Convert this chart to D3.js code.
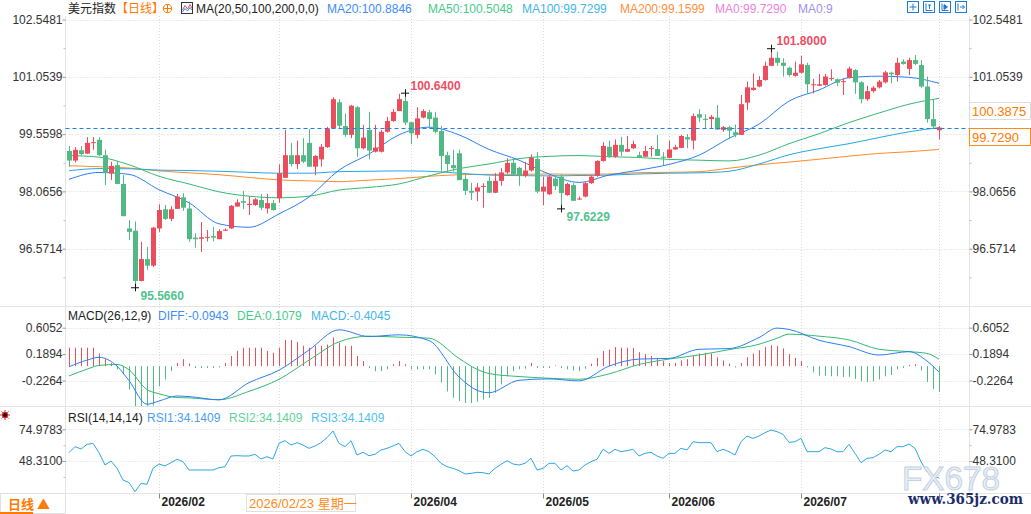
<!DOCTYPE html>
<html>
<head>
<meta charset="utf-8">
<script src="https://cdn.jsdelivr.net/npm/d3@7"></script>
<style>
html, body { margin: 0; padding: 0; background: #fff; overflow: hidden; }
svg { display: block; font-family: "Liberation Sans", Arial, "Noto Sans CJK SC", sans-serif; }
</style>
</head>
<body>
<div id="chart"></div>
<script>
'use strict';

// ─── Data ──────────────────────────────────────────────────────────────────
const kOpen = [
  99.12, 98.87, 99.14, 99.05, 99.33, 99.41, 99.01, 98.53, 98.75, 98.26,
  97.10, 97.04, 95.73, 96.30, 96.13, 97.10, 97.60, 97.35, 97.61, 97.91,
  97.62, 96.86, 96.83, 96.87, 96.90, 96.82, 97.04, 97.10, 97.67, 97.81,
  97.71, 97.71, 97.84, 97.62, 97.76, 97.885, 98.42, 99.01, 98.78, 99.01,
  99.33, 98.71, 98.90, 99.22, 99.71, 100.39, 99.77, 99.54, 100.26, 99.19,
  99.67, 99.10, 99.10, 99.62, 99.90, 100.16, 100.42, 99.87, 99.54, 99.99,
  100.13, 99.99, 99.64, 99.01, 98.75, 99.06, 98.39, 98.08, 98.06, 98.20,
  98.34, 98.03, 98.34, 98.56, 98.81, 98.68, 98.47, 98.61, 98.91, 98.06,
  97.99, 98.40, 98.45, 97.97, 98.23, 97.86, 97.93, 98.28, 98.47, 98.86,
  99.23, 98.97, 99.28, 99.10, 99.19, 99.01, 98.97, 99.19, 99.17, 98.97,
  98.94, 99.16, 99.20, 99.48, 99.39, 100.08, 99.96, 99.95, 99.99, 99.67,
  99.74, 99.61, 99.54, 100.38, 100.71, 100.80, 100.97, 101.34, 101.55, 101.42,
  101.29, 101.08, 101.16, 101.36, 100.84, 100.82, 100.84, 101.00, 100.99, 100.92,
  101.03, 101.23, 100.91, 100.47, 100.68, 100.78, 100.91, 101.16, 101.10, 101.45,
  101.26, 101.49, 101.36, 100.80, 99.95, 99.66
];
const kHigh = [
  99.25, 99.22, 99.25, 99.48, 99.48, 99.48, 99.15, 98.84, 98.84, 98.49,
  97.32, 97.28, 96.75, 96.62, 97.14, 97.73, 97.71, 97.68, 98.00, 98.02,
  97.80, 96.97, 97.26, 97.06, 97.14, 97.08, 97.10, 97.71, 97.86, 98.08,
  97.93, 97.89, 98.00, 98.00, 97.84, 98.77, 99.67, 99.33, 99.39, 99.45,
  99.69, 99.01, 99.30, 99.75, 100.52, 100.47, 100.10, 100.32, 100.29, 99.80,
  100.14, 99.80, 99.67, 100.01, 100.21, 100.61, 100.64, 99.88, 100.26, 100.21,
  100.19, 100.14, 99.77, 99.10, 99.15, 99.15, 98.49, 98.29, 98.28, 98.28,
  98.45, 98.54, 98.67, 98.93, 98.93, 98.71, 98.84, 99.03, 99.09, 98.45,
  98.49, 98.50, 98.51, 98.29, 98.28, 97.93, 98.32, 98.49, 98.88, 99.35,
  99.39, 99.42, 99.49, 99.51, 99.39, 99.10, 99.25, 99.25, 99.54, 99.09,
  99.39, 99.28, 99.54, 99.56, 100.10, 100.21, 100.08, 100.06, 100.32, 99.77,
  99.77, 99.81, 100.58, 100.93, 101.14, 101.07, 101.45, 101.80, 101.71, 101.54,
  101.32, 101.45, 101.60, 101.42, 101.00, 101.13, 101.13, 101.25, 101.01, 101.01,
  101.32, 101.25, 100.94, 100.82, 100.81, 100.97, 101.21, 101.19, 101.55, 101.51,
  101.55, 101.62, 101.49, 101.06, 100.47, 99.77
];
const kLow = [
  98.71, 98.82, 99.01, 99.04, 99.15, 98.99, 98.23, 98.36, 98.25, 97.42,
  96.80, 95.566, 95.72, 96.02, 96.09, 97.01, 97.32, 97.29, 97.61, 97.56,
  96.75, 96.60, 96.49, 96.76, 96.76, 96.82, 97.04, 97.09, 97.67, 97.60,
  97.45, 97.69, 97.58, 97.49, 97.56, 97.77, 98.42, 98.71, 98.65, 98.80,
  98.71, 98.49, 98.71, 99.20, 99.71, 99.69, 99.49, 99.45, 98.97, 99.16,
  98.90, 99.08, 99.08, 99.60, 99.88, 100.16, 99.80, 99.30, 99.45, 99.97,
  99.71, 99.58, 98.58, 98.58, 98.58, 98.36, 97.97, 97.84, 97.81, 97.64,
  98.02, 98.02, 98.21, 98.52, 98.49, 98.21, 98.43, 98.58, 98.02, 97.71,
  97.97, 98.10, 97.6229, 97.95, 97.82, 97.84, 97.91, 98.26, 98.45, 98.84,
  98.94, 98.94, 98.99, 99.09, 99.17, 98.93, 98.97, 98.97, 98.99, 98.75,
  98.93, 99.15, 99.19, 99.19, 99.16, 99.87, 99.69, 99.69, 99.67, 99.62,
  99.43, 99.48, 99.54, 100.19, 100.69, 100.78, 100.95, 101.34, 101.34, 101.06,
  101.06, 101.06, 101.14, 100.61, 100.62, 100.81, 100.82, 100.95, 100.81, 100.58,
  101.01, 100.61, 100.36, 100.43, 100.64, 100.75, 100.88, 100.88, 100.93, 101.37,
  101.10, 101.36, 100.77, 99.86, 99.71, 99.42
];
const kClose = [
  98.87, 99.15, 99.04, 99.33, 99.35, 99.01, 98.54, 98.73, 98.26, 97.42,
  97.01, 95.73, 96.30, 96.13, 97.12, 97.58, 97.35, 97.60, 97.93, 97.64,
  96.82, 96.82, 96.87, 96.88, 96.86, 97.03, 97.07, 97.69, 97.78, 97.77,
  97.74, 97.86, 97.64, 97.76, 97.58, 98.54, 99.01, 98.78, 99.01, 98.84,
  98.71, 98.99, 99.23, 99.71, 100.47, 99.78, 99.54, 100.30, 99.19, 99.47,
  99.13, 99.21, 99.62, 99.90, 100.14, 100.47, 99.86, 99.58, 99.97, 100.16,
  99.95, 99.62, 98.99, 98.78, 98.67, 98.36, 98.08, 98.03, 98.17, 98.21,
  98.03, 98.34, 98.56, 98.81, 98.51, 98.47, 98.61, 98.94, 98.06, 98.19,
  98.45, 98.20, 98.02, 98.26, 97.82, 97.88, 98.28, 98.45, 98.86, 99.25,
  98.97, 99.28, 99.10, 99.17, 99.30, 98.94, 99.12, 99.20, 98.99, 98.94,
  99.16, 99.22, 99.51, 99.42, 100.03, 99.99, 99.93, 100.01, 99.68, 99.74,
  99.65, 99.54, 100.34, 100.78, 100.77, 100.97, 101.34, 101.55, 101.42, 101.34,
  101.10, 101.16, 101.38, 100.86, 100.86, 100.86, 101.06, 101.02, 100.90, 100.94,
  101.27, 100.91, 100.47, 100.68, 100.77, 100.93, 101.17, 101.12, 101.42, 101.39,
  101.49, 101.39, 100.80, 99.95, 99.76, 99.729
];

// moving averages, sampled every 5 bars
const maIdx  = d3.range(0, 146, 5);
const ma20   = [98.38, 98.56, 98.51, 98.11, 97.77, 97.22, 97.13, 97.48, 97.92, 98.62,
                99.04, 99.54, 99.74, 99.54, 99.16, 98.88, 98.52, 98.30, 98.49, 98.62,
                98.77, 99.01, 99.45, 99.82, 100.42, 100.71, 101.03, 101.07, 101.04, 100.885];
const ma50   = [99.00, 98.96, 98.76, 98.46, 98.26, 98.055, 97.94, 97.90, 97.94, 98.10,
                98.17, 98.26, 98.47, 98.66, 98.78, 98.92, 98.98, 99.00, 98.97, 98.95,
                98.90, 98.88, 98.86, 99.01, 99.31, 99.57, 99.86, 100.11, 100.34, 100.49];
const ma100  = [98.605, 98.66, 98.655, 98.62, 98.61, 98.59, 98.563, 98.54, 98.54, 98.58,
                98.59, 98.60, 98.59, 98.54, 98.49, 98.477, 98.47, 98.48, 98.49, 98.52,
                98.54, 98.55, 98.59, 98.78, 99.02, 99.18, 99.31, 99.47, 99.62, 99.73];
const ma200  = [98.735, 98.71, 98.675, 98.60, 98.55, 98.50, 98.43, 98.365, 98.34, 98.32,
                98.36, 98.40, 98.46, 98.50, 98.51, 98.51, 98.52, 98.51, 98.52, 98.553,
                98.563, 98.58, 98.67, 98.76, 98.83, 98.905, 98.985, 99.056, 99.10, 99.16];

// MACD lines
const macdIdx = [0, 3, 5, 8, 10, 13, 15, 18, 20, 25, 30, 35, 40, 45, 50, 55, 60, 65, 68, 70,
                 75, 80, 85, 90, 95, 100, 105, 110, 115, 118, 120, 125, 130, 135, 140, 143, 145];
const diffVals = [-0.011, 0.095, 0.138, 0.000, -0.228, -0.600, -0.550, -0.470, -0.480, -0.530,
                  -0.260, -0.064, 0.254, 0.572, 0.466, 0.493, 0.403, -0.170, -0.380, -0.419,
                  -0.223, -0.201, -0.233, 0.000, 0.111, 0.122, 0.265, 0.276, 0.450, 0.599,
                  0.578, 0.408, 0.307, 0.175, 0.228, 0.080, -0.0943];
const deaVals  = [-0.154, -0.048, 0.011, 0.026, -0.058, -0.370, -0.435, -0.495, -0.500, -0.530,
                  -0.397, -0.207, 0.095, 0.382, 0.472, 0.456, 0.440, 0.122, -0.050, -0.117,
                  -0.164, -0.191, -0.207, -0.122, 0.026, 0.111, 0.175, 0.260, 0.344, 0.440,
                  0.503, 0.472, 0.413, 0.265, 0.228, 0.200, 0.1079];
const macdHist = [
  0.29, 0.29, 0.29, 0.29, 0.29, 0.20, 0.11, 0.05, -0.05, -0.13,
  -0.37, -0.70, -0.70, -0.66, -0.62, -0.32, -0.21, -0.08, 0.05, 0.11,
  0.04, -0.03, -0.03, -0.03, -0.03, -0.02, 0.05, 0.16, 0.24, 0.29,
  0.29, 0.29, 0.29, 0.24, 0.21, 0.29, 0.41, 0.41, 0.38, 0.32,
  0.29, 0.32, 0.32, 0.34, 0.45, 0.37, 0.32, 0.32, 0.16, 0.08,
  -0.03, -0.08, -0.08, -0.05, 0.03, 0.08, 0.03, -0.05, -0.05, -0.05,
  -0.05, -0.13, -0.26, -0.40, -0.50, -0.55, -0.58, -0.58, -0.56, -0.53,
  -0.50, -0.42, -0.29, -0.16, -0.08, -0.05, -0.04, 0.05, -0.03, -0.03,
  -0.03, 0.01, -0.03, -0.05, -0.07, -0.08, -0.04, 0.04, 0.13, 0.24,
  0.26, 0.30, 0.29, 0.29, 0.29, 0.22, 0.19, 0.16, 0.13, 0.08,
  0.05, 0.05, 0.09, 0.11, 0.16, 0.20, 0.21, 0.20, 0.14, 0.09,
  0.04, -0.02, 0.05, 0.14, 0.20, 0.25, 0.30, 0.33, 0.32, 0.28,
  0.19, 0.13, 0.08, -0.02, -0.10, -0.15, -0.15, -0.16, -0.16, -0.17,
  -0.17, -0.20, -0.24, -0.25, -0.24, -0.21, -0.16, -0.14, -0.05, -0.03,
  0.02, 0.03, -0.07, -0.25, -0.36, -0.4045
];

const rsiVals = [
  55.32, 60.37, 58.41, 62.33, 63.17, 55.32, 44.95, 48.32, 42.15, 32.34,
  30.10, 22.53, 29.54, 28.69, 42.15, 45.79, 44.11, 46.91, 49.72, 47.75,
  40.75, 40.75, 40.75, 40.75, 40.75, 42.71, 43.55, 52.52, 52.80, 52.52,
  52.52, 53.92, 50.00, 51.96, 50.00, 63.17, 65.41, 61.77, 63.73, 61.77,
  58.97, 60.93, 63.73, 67.94, 73.54, 63.17, 60.37, 65.41, 53.36, 55.60,
  52.80, 53.92, 57.57, 58.97, 60.93, 63.17, 56.16, 52.52, 56.16, 58.13,
  56.16, 51.96, 46.35, 43.55, 42.15, 40.19, 37.38, 37.94, 38.78, 38.50,
  37.38, 42.15, 45.51, 48.60, 45.79, 44.95, 46.35, 50.56, 40.75, 42.15,
  46.35, 46.35, 40.75, 44.39, 39.91, 40.75, 44.95, 47.75, 49.72, 58.13,
  54.76, 58.13, 56.16, 57.00, 58.13, 52.52, 54.76, 55.60, 52.52, 50.56,
  54.76, 54.76, 58.97, 57.57, 64.57, 63.73, 63.73, 63.73, 56.16, 58.13,
  56.16, 53.36, 64.57, 69.34, 67.37, 69.34, 72.14, 74.38, 72.98, 70.74,
  64.01, 64.57, 67.37, 56.16, 56.16, 56.16, 59.53, 58.41, 56.16, 56.16,
  62.33, 54.76, 46.91, 50.56, 51.12, 53.92, 57.57, 56.16, 60.37, 60.37,
  62.61, 58.97, 47.75, 39.35, 35.50, 34.14
];

// axis ticks
const priceTicks      = [102.5481, 101.0539, 99.5598, 98.0656, 96.5714];
const priceTicksRight = [102.5481, 101.0539, 98.0656, 96.5714]; // 99.5598 sits under the price box
const priceMinorTicks = [101.8010, 100.3069, 98.8127, 97.3185, 95.8243];
const macdTicks       = [0.6052, 0.1894, -0.2264];
const rsiTicks        = [74.9783, 48.3100];
const rsiMinorTicks   = [61.6442, 34.9759];
const monthIdx        = [15, 35, 57, 79, 100, 122, 145];
const monthLabels     = ['2026/02', '', '2026/04', '2026/05', '2026/06', '2026/07', ''];

// annotated extremes
const markIdx  = [117, 56, 82, 11];
const markKind = ['high', 'high', 'low', 'low'];

// side boxes
const sideBoxVals = [100.3875, 99.7290];

// legends
const mainLegend = [
  ['美元指数', '#222', 68],
  ['【日线】', '#ff7a00', 116],
  ['MA(20,50,100,200,0,0)', '#222', 196],
  ['MA20:100.8846', '#3d8df5', 327],
  ['MA50:100.5048', '#47c98a', 428],
  ['MA100:99.7299', '#3fb6ea', 522],
  ['MA200:99.1599', '#ff8f3f', 620],
  ['MA0:99.7290', '#ee7fd8', 715],
  ['MA0:9', '#9f8ff3', 798]
];
const macdLegend = [
  ['MACD(26,12,9)', '#222', 68],
  ['DIFF:-0.0943', '#3d8df5', 158],
  ['DEA:0.1079', '#47c98a', 237],
  ['MACD:-0.4045', '#3fb6ea', 311]
];
const rsiLegend = [
  ['RSI(14,14,14)', '#222', 68],
  ['RSI1:34.1409', '#4a9ef5', 147],
  ['RSI2:34.1409', '#62d29a', 229],
  ['RSI3:34.1409', '#4fc0ee', 311]
];

// ─── Layout ────────────────────────────────────────────────────────────────
const W = 1031, H = 514;
const L = 65.5, R = 969.5;
const UP = '#eb4d5c', DOWN = '#52b986';

const svg = d3.select('#chart').append('svg')
  .attr('width', W).attr('height', H)
  .attr('viewBox', '0 0 ' + W + ' ' + H);

const x  = d3.scaleLinear().domain([0, kClose.length - 1]).range([69, 939]);
const yP = d3.scaleLinear().domain([96.5714, 102.5481]).range([248.7, 19.5]);
const yM = d3.scaleLinear().domain([-0.2264, 0.6052]).range([380.5, 327.7]);
const yR = d3.scaleLinear().domain([48.31, 74.9783]).range([461, 429.3]);

svg.append('defs').append('clipPath').attr('id', 'macd-clip')
  .append('rect').attr('x', L).attr('y', 307).attr('width', R - L).attr('height', 99);

// ─── Frame & grids ─────────────────────────────────────────────────────────
const frame = svg.append('g').attr('stroke', '#e4e4e4').attr('stroke-width', 1);
[306.5, 406.5, 493.5].forEach(function (yy) {
  frame.append('line').attr('x1', 0).attr('x2', W).attr('y1', yy).attr('y2', yy);
});
frame.append('line').attr('x1', L).attr('x2', L).attr('y1', 16).attr('y2', H);
frame.append('line').attr('x1', R).attr('x2', R).attr('y1', 16).attr('y2', 493.5);

const grid = svg.append('g').attr('stroke', '#d9d9d9').attr('stroke-width', 1)
  .attr('stroke-dasharray', '1,2');
function hGrid(scale, ticks) {
  ticks.forEach(function (t) {
    const yy = Math.round(scale(t)) + 0.5;
    grid.append('line').attr('x1', L).attr('x2', R).attr('y1', yy).attr('y2', yy);
  });
}
hGrid(yP, priceTicks);
hGrid(yM, macdTicks);
hGrid(yR, rsiTicks);
monthIdx.forEach(function (i) {
  const xx = Math.round(x(i)) + 0.5;
  grid.append('line').attr('x1', xx).attr('x2', xx).attr('y1', 16).attr('y2', 493);
});

// ─── Axes ──────────────────────────────────────────────────────────────────
const fmt4 = function (d) { return d.toFixed(4); };

function sideAxis(gen, xPos, scale, ticks, minor) {
  const g = svg.append('g').attr('transform', 'translate(' + xPos + ',0)')
    .call(gen(scale).tickValues(ticks).tickSize(3).tickPadding(0).tickFormat(fmt4));
  g.select('.domain').remove();
  g.selectAll('line').attr('stroke', '#9a9a9a');
  g.selectAll('text').attr('font-size', 12).attr('fill', '#333')
    .attr('font-family', '"Liberation Sans", Arial, sans-serif');
  if (minor) {
    const m = svg.append('g').attr('transform', 'translate(' + xPos + ',0)')
      .call(gen(scale).tickValues(minor).tickSize(2).tickFormat(''));
    m.select('.domain').remove();
    m.selectAll('line').attr('stroke', '#bbb');
  }
}
sideAxis(d3.axisLeft,  L, yP, priceTicks, priceMinorTicks);
sideAxis(d3.axisRight, R, yP, priceTicksRight, priceMinorTicks);
sideAxis(d3.axisLeft,  L, yM, macdTicks, null);
sideAxis(d3.axisRight, R, yM, macdTicks, null);
sideAxis(d3.axisLeft,  L, yR, rsiTicks, rsiMinorTicks);
sideAxis(d3.axisRight, R, yR, rsiTicks, rsiMinorTicks);

const timeAxis = svg.append('g').attr('transform', 'translate(0,493.5)')
  .call(d3.axisBottom(x).tickValues(monthIdx).tickSize(5)
    .tickFormat(function (d, i) { return monthLabels[i]; }));
timeAxis.select('.domain').remove();
timeAxis.selectAll('line').attr('stroke', '#888');
timeAxis.selectAll('text')
  .attr('text-anchor', 'start').attr('x', 2).attr('y', 4).attr('dy', '0.71em')
  .attr('font-size', 12).attr('font-weight', 'bold').attr('fill', '#222')
  .attr('font-family', '"Liberation Sans", Arial, sans-serif');

// ─── Price panel ───────────────────────────────────────────────────────────
const idx = d3.range(kClose.length);

function maLine(vals, color) {
  svg.append('path')
    .datum(maIdx.map(function (i, k) { return [i, vals[k]]; }))
    .attr('fill', 'none').attr('stroke', color).attr('stroke-width', 1)
    .attr('d', d3.line().x(function (d) { return x(d[0]); })
      .y(function (d) { return yP(d[1]); }).curve(d3.curveMonotoneX));
}
maLine(ma200, '#ff8a2a');
maLine(ma100, '#25a7e4');
maLine(ma50,  '#35b873');
maLine(ma20,  '#2b7ff0');

const candles = svg.append('g');
candles.selectAll('line.wick').data(idx).enter().append('line')
  .attr('class', 'wick')
  .attr('x1', function (i) { return Math.round(x(i)) + 0.5; })
  .attr('x2', function (i) { return Math.round(x(i)) + 0.5; })
  .attr('y1', function (i) { return yP(kHigh[i]); })
  .attr('y2', function (i) { return yP(kLow[i]); })
  .attr('stroke', function (i) { return kClose[i] >= kOpen[i] ? UP : DOWN; })
  .attr('stroke-width', 1);
candles.selectAll('rect.body').data(idx).enter().append('rect')
  .attr('class', 'body')
  .attr('x', function (i) { return Math.round(x(i)) - 2; })
  .attr('width', 5)
  .attr('y', function (i) { return yP(Math.max(kOpen[i], kClose[i])); })
  .attr('height', function (i) { return Math.max(1, Math.abs(yP(kOpen[i]) - yP(kClose[i]))); })
  .attr('fill', function (i) { return kClose[i] >= kOpen[i] ? UP : DOWN; });

// last price dashed line
const lastY = Math.round(yP(kClose[kClose.length - 1])) + 0.5;
svg.append('line').attr('x1', L).attr('x2', W).attr('y1', lastY).attr('y2', lastY)
  .attr('stroke', '#1e7fe6').attr('stroke-width', 1).attr('stroke-dasharray', '4,3');

// extreme markers
markIdx.forEach(function (i, k) {
  const isHigh = markKind[k] === 'high';
  const v = isHigh ? kHigh[i] : kLow[i];
  const cx = x(i), cy = yP(v);
  svg.append('path').attr('d', 'M' + (cx - 4) + ',' + (cy + 0.5) + 'H' + (cx + 4) +
      'M' + (Math.round(cx) + 0.5) + ',' + (cy - 3.5) + 'V' + (cy + 4))
    .attr('stroke', '#111').attr('stroke-width', 1);
  svg.append('text').attr('x', cx + 5.5).attr('y', isHigh ? cy - 3 : cy + 12.5)
    .attr('font-size', 12).attr('font-weight', 'bold')
    .attr('fill', isHigh ? '#ee4d63' : '#52c28d')
    .text(v.toFixed(4));
});

// side value boxes
sideBoxVals.forEach(function (v, k) {
  const top = Math.round(yP(v)) + 0.5;
  svg.append('rect').attr('x', R).attr('y', top).attr('width', W - R - 0.5).attr('height', 17)
    .attr('fill', '#fff').attr('stroke', k === 0 ? '#dcdcdc' : '#ff8a1c');
  svg.append('text').attr('x', 972).attr('y', top + 13).attr('font-size', 13)
    .attr('fill', '#ff7a00').text(v.toFixed(4));
});

// ─── MACD panel ────────────────────────────────────────────────────────────
const macdG = svg.append('g').attr('clip-path', 'url(#macd-clip)');
macdG.selectAll('line.hist').data(idx).enter().append('line')
  .attr('x1', function (i) { return Math.round(x(i)) + 0.5; })
  .attr('x2', function (i) { return Math.round(x(i)) + 0.5; })
  .attr('y1', yM(0))
  .attr('y2', function (i) { return yM(macdHist[i]); })
  .attr('stroke', function (i) { return macdHist[i] >= 0 ? '#e8505b' : '#52b986'; })
  .attr('stroke-width', 1);

function macdLine(vals, color) {
  macdG.append('path')
    .datum(macdIdx.map(function (i, k) { return [i, vals[k]]; }))
    .attr('fill', 'none').attr('stroke', color).attr('stroke-width', 1)
    .attr('d', d3.line().x(function (d) { return x(d[0]); })
      .y(function (d) { return yM(d[1]); }).curve(d3.curveMonotoneX));
}
macdLine(deaVals, '#35b873');
macdLine(diffVals, '#2b7ff0');

// ─── RSI panel ─────────────────────────────────────────────────────────────
svg.append('path').datum(idx)
  .attr('fill', 'none').attr('stroke', '#2ea6e6').attr('stroke-width', 1)
  .attr('d', d3.line().x(function (i) { return x(i); }).y(function (i) { return yR(rsiVals[i]); }));

// ─── Legends ───────────────────────────────────────────────────────────────
function legend(items, baseY) {
  items.forEach(function (it) {
    svg.append('text').attr('x', it[2]).attr('y', baseY)
      .attr('font-size', 12).attr('fill', it[1]).text(it[0]);
  });
}
legend(mainLegend, 12.5);
legend(macdLegend, 320);
legend(rsiLegend, 422);

// ⊕ icon
svg.append('circle').attr('cx', 167.5).attr('cy', 8.5).attr('r', 4.2)
  .attr('fill', 'none').attr('stroke', '#ff7a00');
svg.append('path').attr('d', 'M163.3,8.5H171.7M167.5,4.3V12.7').attr('stroke', '#ff7a00');
// small chart icon
svg.append('rect').attr('x', 181.5).attr('y', 2.5).attr('width', 11).attr('height', 11)
  .attr('fill', '#fff').attr('stroke', '#333');
svg.append('path').attr('d', 'M182.5,10L185,5.5L187.5,9L190,4.5L192,8')
  .attr('fill', 'none').attr('stroke', '#e8505b');
svg.append('path').attr('d', 'M182.5,12L185,8.5L187.5,11L190,7.5L192,10')
  .attr('fill', 'none').attr('stroke', '#2b7ff0');

// top-right tool icons
[907, 923, 939, 955].forEach(function (ix, k) {
  const g = svg.append('g').attr('transform', 'translate(' + ix + ',1)')
    .attr('stroke', '#1f7ad6').attr('fill', 'none');
  g.append('rect').attr('x', 0.5).attr('y', 0.5).attr('width', 11).attr('height', 11);
  if (k === 0) g.append('path').attr('d', 'M6,2.5V9.5M2.5,6H9.5');
  if (k === 1) g.append('path').attr('d', 'M3,2.5V9.5M3,9.5H9.5M5,4H8M6.5,4V8');
  if (k === 2) g.append('path').attr('d', 'M3,2.5V9.5M3,9.5H9.5M5,3.5L8.5,6L5,8.5Z').attr('fill', '#1f7ad6');
  if (k === 3) g.append('path').attr('d', 'M3,2.5V9.5M5,6H9.5M7.5,4L9.5,6L7.5,8');
});

// red sun icon (left of RSI)
const sun = svg.append('g').attr('transform', 'translate(5,415)');
d3.range(8).forEach(function (k) {
  const a = k * Math.PI / 4;
  sun.append('line').attr('x1', Math.cos(a) * 3.2).attr('y1', Math.sin(a) * 3.2)
    .attr('x2', Math.cos(a) * 5).attr('y2', Math.sin(a) * 5)
    .attr('stroke', '#e02020').attr('stroke-width', 1);
});
sun.append('circle').attr('r', 2.6).attr('fill', '#111').attr('stroke', '#e02020').attr('stroke-width', 1.2);

// bottom-left period button
svg.append('rect').attr('x', 0.5).attr('y', 493.5).attr('width', L - 0.5).attr('height', 20)
  .attr('fill', '#fff').attr('stroke', '#e0e0e0');
svg.append('text').attr('x', 8).attr('y', 509).attr('font-size', 13).attr('font-weight', 'bold')
  .attr('fill', '#ff7a00').attr('font-family', '"Noto Sans CJK SC", sans-serif').text('日线 ▲');
svg.append('line').attr('x1', 0).attr('x2', 33).attr('y1', 513).attr('y2', 513)
  .attr('stroke', '#ff7a00').attr('stroke-width', 2);

// crosshair date label
svg.append('rect').attr('x', 246.5).attr('y', 494.5).attr('width', 109).attr('height', 17)
  .attr('fill', '#fff').attr('stroke', '#e0e0e0');
svg.append('text').attr('x', 249).attr('y', 507.5).attr('font-size', 13)
  .attr('fill', '#ff8a1c').attr('font-family', '"Liberation Sans", "Noto Sans CJK SC", sans-serif')
  .text('2026/02/23 星期一');

// watermark
svg.append('text').attr('x', 902).attr('y', 490).attr('font-size', 34)
  .attr('textLength', 98).attr('lengthAdjust', 'spacingAndGlyphs')
  .attr('fill', '#e9eff6').attr('stroke', '#c3d1e2').attr('stroke-width', 1)
  .attr('font-family', '"Liberation Sans", Arial, sans-serif').text('FX678');
svg.append('text').attr('x', 908).attr('y', 504).attr('font-size', 14).attr('font-weight', 'bold')
  .attr('textLength', 115).attr('lengthAdjust', 'spacingAndGlyphs')
  .attr('fill', '#1b2d6b').attr('font-family', '"DejaVu Serif", serif').text('www.365jz.com');
</script>
</body>
</html>
